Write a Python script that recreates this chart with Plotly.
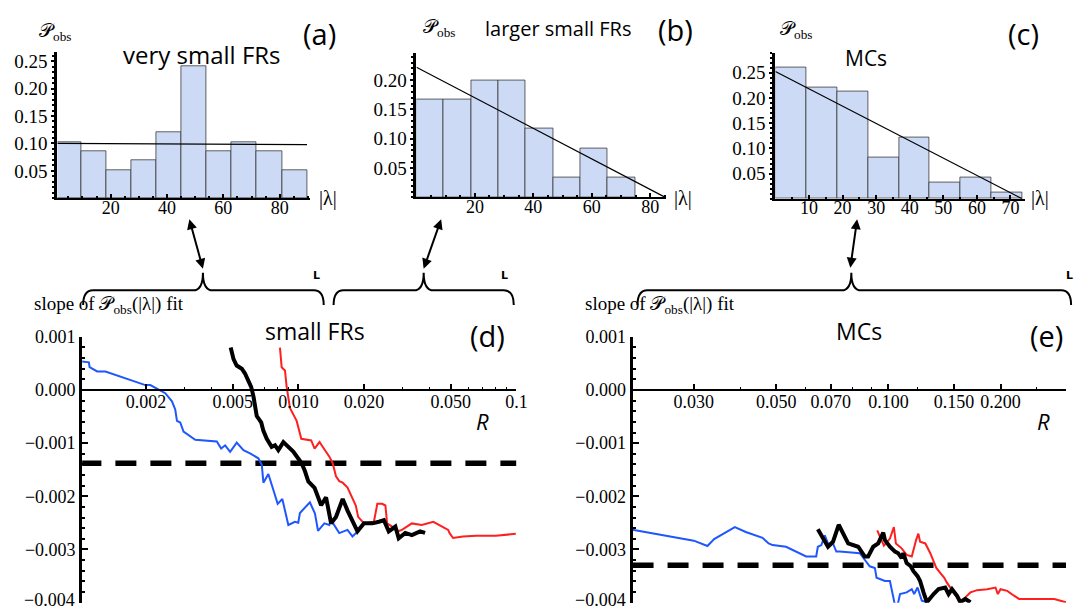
import math
import plotly.graph_objects as go

W, H = 1091, 611

# ---------------- data ----------------
# (a) very small FRs
a_bin_start = 0.7
a_bin_width = 8.9
a_heights = [0.102, 0.086, 0.052, 0.069, 0.121, 0.240, 0.086, 0.102, 0.086, 0.052]
a_fit_intercept = 0.1002
a_fit_slope = -0.000026
a_fit_range = [1.1, 89.7]

# (b) larger small FRs
b_bin_start = 0.0
b_bin_width = 9.35
b_heights = [0.167, 0.167, 0.200, 0.200, 0.117, 0.033, 0.083, 0.033]
b_fit_intercept = 0.222
b_fit_slope = -0.002606
b_fit_range = [0.0, 85.2]

# (c) MCs
c_bin_start = 0.0
c_bin_width = 9.2
c_heights = [0.261, 0.221, 0.212, 0.081, 0.122, 0.033, 0.042, 0.012]
c_fit_intercept = 0.2525
c_fit_slope = -0.003435
c_fit_range = [0.0, 73.5]

a_xticks = [20, 40, 60, 80]
b_xticks = [20, 40, 60, 80]
c_xticks = [10, 20, 30, 40, 50, 60, 70]
a_yticks = [0.05, 0.10, 0.15, 0.20, 0.25]
b_yticks = [0.05, 0.10, 0.15, 0.20]
c_yticks = [0.05, 0.10, 0.15, 0.20, 0.25]

# (d) small FRs : slope (x 1e-3) vs R
d_blue_R = [0.001012, 0.001094, 0.001102, 0.001194, 0.001303, 0.001986, 0.002093, 0.002451, 0.002630, 0.002723,
            0.002773, 0.002871, 0.002972, 0.003364, 0.004224, 0.004423, 0.004613, 0.004863, 0.005214, 0.005597,
            0.006000, 0.006550, 0.006792, 0.006910, 0.007280, 0.007674, 0.008035, 0.008437, 0.008990, 0.009639,
            0.009983, 0.01016, 0.01129, 0.01191, 0.01230, 0.01315, 0.01386, 0.01412, 0.01539, 0.01679, 0.01770, 0.01866]
d_blue_slope_milli = [0.539, 0.520, 0.429, 0.349, 0.349, 0.092, 0.092, -0.061, -0.214, -0.367,
                      -0.582, -0.612, -0.784, -0.937, -0.968, -1.102, -1.041, -1.163, -0.992, -1.133,
                      -1.194, -1.286, -1.408, -1.745, -1.580, -1.898, -2.143, -2.051, -2.541, -2.480,
                      -2.498, -2.315, -2.113, -2.327, -2.650, -2.511, -2.541, -2.449, -2.694, -2.633, -2.756, -2.664]

d_black_R = [0.00489, 0.00504, 0.00521, 0.00550, 0.00569, 0.00590, 0.00607, 0.00622, 0.00633, 0.00644,
             0.00675, 0.00691, 0.00716, 0.00754, 0.00781, 0.00809, 0.00853, 0.00899, 0.00947, 0.00998,
             0.01035, 0.01072, 0.01110, 0.01186, 0.01271, 0.01339, 0.01412, 0.01487, 0.01596, 0.01680,
             0.01770, 0.01866, 0.02000, 0.02183, 0.02340, 0.02466, 0.02597, 0.02784, 0.02884, 0.03091,
             0.03313, 0.03614, 0.03810]
d_black_slope_milli = [0.80, 0.58, 0.46, 0.40, 0.31, 0.15, 0.06, -0.12, -0.28, -0.49,
                       -0.61, -0.77, -0.92, -1.07, -1.04, -1.13, -0.98, -1.07, -1.16, -1.29,
                       -1.38, -1.53, -1.72, -1.84, -2.17, -2.02, -2.51, -2.39, -2.05, -2.27,
                       -2.48, -2.66, -2.51, -2.51, -2.48, -2.45, -2.66, -2.57, -2.79, -2.69,
                       -2.73, -2.66, -2.69]

d_red_R = [0.008229, 0.008378, 0.008677, 0.008831, 0.009146, 0.009376, 0.009816, 0.01031, 0.01145, 0.01186,
           0.01250, 0.01294, 0.01387, 0.01436, 0.01487, 0.01539, 0.01596, 0.01680, 0.01770, 0.01833,
           0.01879, 0.02000, 0.02219, 0.02301, 0.02422, 0.02506, 0.02552, 0.02689, 0.02833, 0.02985,
           0.03313, 0.03678, 0.04157, 0.04538, 0.04863, 0.04944, 0.05124, 0.05686, 0.06535, 0.08054, 0.09931]
d_red_slope_milli = [0.796, 0.429, 0.367, 0.061, -0.337, -0.429, -0.582, -0.919, -0.949, -1.102,
                     -0.980, -1.072, -1.255, -1.378, -1.623, -1.715, -1.745, -1.837, -2.021, -2.174,
                     -2.388, -2.511, -2.480, -2.143, -2.143, -2.174, -2.511, -2.572, -2.664, -2.633,
                     -2.511, -2.541, -2.480, -2.572, -2.633, -2.700, -2.786, -2.756, -2.743, -2.743, -2.707]

d_fit_slope = -0.00138
d_R_range = [0.001, 0.1]

# (e) MCs
e_blue_R = [0.02056, 0.03002, 0.03266, 0.03404, 0.03869, 0.04140, 0.04592, 0.04768, 0.04887, 0.05309,
            0.06012, 0.06397, 0.06463, 0.06604, 0.06745, 0.06881, 0.07096, 0.07244, 0.07396, 0.08375,
            0.08636, 0.08907, 0.09194, 0.09290, 0.09784, 0.1009, 0.1041, 0.1058, 0.1074, 0.1119,
            0.1155, 0.1172, 0.1197, 0.1229, 0.1268]
e_blue_slope_milli = [-2.632, -2.836, -2.937, -2.807, -2.580, -2.673, -2.783, -2.888, -2.919, -2.950,
                      -3.134, -3.134, -2.950, -2.919, -2.734, -2.888, -2.888, -3.042, -3.042, -3.072,
                      -3.195, -3.318, -3.349, -3.534, -3.595, -3.595, -4.050, -4.050, -3.841, -3.810,
                      -3.749, -3.841, -3.718, -3.964, -3.995]

e_black_R = [0.06463, 0.06881, 0.07096, 0.07352, 0.07796, 0.08036, 0.08293, 0.08638, 0.08820, 0.09100,
             0.09386, 0.09683, 0.09784, 0.1009, 0.1041, 0.1062, 0.1085, 0.1096, 0.1119, 0.1148,
             0.1167, 0.1197, 0.1216, 0.1242, 0.1268, 0.1322, 0.1363, 0.1420, 0.1450, 0.1481,
             0.1528, 0.1559, 0.1608, 0.1660]
e_black_slope_milli = [-2.623, -2.950, -2.857, -2.537, -2.888, -2.919, -2.950, -3.134, -3.134, -2.950,
                       -2.888, -2.685, -2.826, -2.950, -3.042, -3.072, -3.165, -3.072, -3.257, -3.318,
                       -3.411, -3.503, -3.595, -3.810, -3.995, -3.841, -3.749, -3.718, -3.841, -3.749,
                       -3.872, -3.995, -3.933, -3.995]

e_red_R = [0.09328, 0.09723, 0.1009, 0.1034, 0.1047, 0.1085, 0.1119, 0.1155, 0.1186, 0.1203,
           0.1216, 0.1256, 0.1295, 0.1322, 0.1344, 0.1377, 0.1412, 0.1435, 0.1466, 0.1496,
           0.1528, 0.1559, 0.1608, 0.1660, 0.1730, 0.1841, 0.1938, 0.1966, 0.2000, 0.2084,
           0.2173, 0.2241, 0.2786, 0.2994]
e_red_slope_milli = [-2.642, -2.931, -2.796, -2.580, -2.888, -2.980, -3.103, -3.134, -2.826, -2.703,
                     -2.857, -2.888, -3.072, -3.226, -3.349, -3.440, -3.534, -3.626, -3.718, -3.810,
                     -3.903, -3.995, -3.903, -3.810, -3.767, -3.749, -3.718, -3.841, -3.749, -3.780,
                     -3.872, -3.933, -3.933, -3.995]

e_fit_slope = -0.0033
e_R_range = [0.02056, 0.2999]

d_xticks = [0.002, 0.005, 0.010, 0.020, 0.050, 0.1]
d_xticktext = ["0.002", "0.005", "0.010", "0.020", "0.050", "0.1"]
d_xminor = [0.003, 0.004, 0.006, 0.007, 0.008, 0.009, 0.03, 0.04, 0.06, 0.07, 0.08, 0.09]
e_xticks = [0.030, 0.050, 0.070, 0.100, 0.150, 0.200]
e_xticktext = ["0.030", "0.050", "0.070", "0.100", "0.150", "0.200"]
e_xminor = [0.04, 0.06, 0.08, 0.09, 0.12, 0.25]
low_yticks = [0.001, 0.0, -0.001, -0.002, -0.003, -0.004]
low_yticktext = ["0.001", "0.000", "\u22120.001", "\u22120.002", "\u22120.003", ""]
low_ybottom_label = "\u22120.004"

# ---------------- layout helpers (pixel -> paper) ----------------
def PX(x):
    return x / W

def PY(y):
    return 1 - y / H

def dom_x(x0, x1):
    return [PX(x0), PX(x1)]

def dom_y(y_top, y_bottom):
    return [PY(y_bottom), PY(y_top)]

SERIF = "Liberation Serif, Times New Roman, serif"
SANS = "Open Sans, Noto Sans, sans-serif"
BAR_FILL = "#cddaf5"
BAR_EDGE = "rgba(50,50,50,0.75)"
BLUE = "#1f57ff"
RED = "#ff1f1f"

fig = go.Figure()

def add_hist(start, width, heights, icpt, slope, frange, xa, ya):
    centers = [start + width * (i + 0.5) for i in range(len(heights))]
    fig.add_trace(go.Bar(x=centers, y=heights, width=[width] * len(heights),
                         marker=dict(color=BAR_FILL, line=dict(color=BAR_EDGE, width=1)),
                         xaxis=xa, yaxis=ya, hoverinfo="skip"))
    fig.add_trace(go.Scatter(x=frange, y=[icpt + slope * v for v in frange], mode="lines",
                             line=dict(color="black", width=1.2), xaxis=xa, yaxis=ya, hoverinfo="skip"))

add_hist(a_bin_start, a_bin_width, a_heights, a_fit_intercept, a_fit_slope, a_fit_range, "x", "y")
add_hist(b_bin_start, b_bin_width, b_heights, b_fit_intercept, b_fit_slope, b_fit_range, "x2", "y2")
add_hist(c_bin_start, c_bin_width, c_heights, c_fit_intercept, c_fit_slope, c_fit_range, "x3", "y3")

def milli(v):
    return [s * 1e-3 for s in v]

def add_lower(rng, fit, curves, xa, ya):
    fig.add_trace(go.Scatter(x=rng, y=[fit, fit], mode="lines",
                             line=dict(color="black", width=5.5, dash="21px,14px"),
                             xaxis=xa, yaxis=ya, hoverinfo="skip"))
    for R, s, col, w in curves:
        fig.add_trace(go.Scatter(x=R, y=milli(s), mode="lines",
                                 line=dict(color=col, width=w), xaxis=xa, yaxis=ya, hoverinfo="skip"))

add_lower(d_R_range, d_fit_slope,
          [(d_blue_R, d_blue_slope_milli, BLUE, 2), (d_red_R, d_red_slope_milli, RED, 2),
           (d_black_R, d_black_slope_milli, "black", 4)], "x4", "y4")
add_lower(e_R_range, e_fit_slope,
          [(e_blue_R, e_blue_slope_milli, BLUE, 2), (e_red_R, e_red_slope_milli, RED, 2),
           (e_black_R, e_black_slope_milli, "black", 4)], "x5", "y5")

# ---------------- axes ----------------
def top_x(dom, rng, ticks, anchor):
    return dict(domain=dom, range=rng, anchor=anchor, showline=True, linecolor="black", linewidth=2,
                showgrid=False, zeroline=False, tickvals=ticks, ticks="inside", ticklen=4, tickwidth=1.5,
                tickcolor="black", minor=dict(dtick=5, tick0=0, ticks="inside", ticklen=2, tickcolor="black"),
                ticklabelstandoff=-8,
                tickfont=dict(family=SERIF, size=18, color="black"), fixedrange=True)

def top_y(dom, rng, ticks, anchor):
    return dict(domain=dom, range=rng, anchor=anchor, showline=True, linecolor="black", linewidth=3,
                showgrid=False, zeroline=False, tickvals=ticks, ticktext=["%.2f" % t for t in ticks],
                ticks="outside", ticklen=3, tickwidth=1.5, tickcolor="black",
                minor=dict(dtick=0.01, tick0=0, ticks="outside", ticklen=2, tickcolor="black"),
                tickfont=dict(family=SERIF, size=19, color="black"), fixedrange=True)

zero_pos = PY(386.7)

def low_x(dom, rng, ticks, text, minor):
    return dict(domain=dom, type="log", range=[math.log10(rng[0]), math.log10(rng[1])],
                anchor="free", position=zero_pos, showline=True, linecolor="black", linewidth=1.5,
                showgrid=False, zeroline=False, tickvals=ticks, ticktext=text, ticks="inside", ticklen=6,
                tickwidth=2, tickcolor="black", ticklabelstandoff=-5,
                minor=dict(tickvals=minor, ticks="inside", ticklen=3, tickwidth=1, tickcolor="black"),
                tickfont=dict(family=SERIF, size=18, color="black"), fixedrange=True)

def low_y(dom, anchor):
    return dict(domain=dom, range=[-0.004006, 0.001], anchor=anchor, showline=True, linecolor="black",
                linewidth=3, showgrid=False, zeroline=False, tickvals=low_yticks, ticktext=low_yticktext,
                ticks="inside", ticklen=6, tickwidth=2, tickcolor="black",
                minor=dict(dtick=0.0002, tick0=0, ticks="inside", ticklen=3, tickwidth=1.5, tickcolor="black"),
                tickfont=dict(family=SERIF, size=18, color="black"), fixedrange=True)

fig.update_layout(
    width=W, height=H, margin=dict(l=0, r=0, t=0, b=0), autosize=False,
    paper_bgcolor="white", plot_bgcolor="white", showlegend=False, bargap=0,
    xaxis=top_x(dom_x(58, 313), [1.1, 90.7], a_xticks, "y"),
    yaxis=top_y(dom_y(43, 191.5), [0, 0.266], a_yticks, "x"),
    xaxis2=top_x(dom_x(420.7, 673), [0, 85.5], b_xticks, "y2"),
    yaxis2=top_y(dom_y(43.3, 190.5), [0, 0.247], b_yticks, "x2"),
    xaxis3=top_x(dom_x(783.3, 1035), [0, 74.2], c_xticks, "y3"),
    yaxis3=top_y(dom_y(43.3, 192), [0, 0.29], c_yticks, "x3"),
    xaxis4=low_x(dom_x(83, 521.7), [0.001019, 0.1], d_xticks, d_xticktext, d_xminor),
    yaxis4=low_y(dom_y(332.3, 602.7), "x4"),
    xaxis5=low_x(dom_x(639, 1077), [0.02056, 0.2999], e_xticks, e_xticktext, e_xminor),
    yaxis5=low_y(dom_y(332.3, 602.7), "x5"),
)

# ---------------- text ----------------
ann = []

def txt(x, y, s, size, family=SANS, xanchor="center"):
    ann.append(dict(x=PX(x), y=PY(y), xref="paper", yref="paper", text=s, showarrow=False,
                    xanchor=xanchor, yanchor="middle", font=dict(family=family, size=size, color="black")))

POBS = "\U0001D4AB<sub>obs</sub>"
txt(56, 22, POBS, 19, SERIF)
txt(443, 18, POBS, 19, SERIF)
txt(804, 20, POBS, 19, SERIF)
txt(204, 45, "very small FRs", 24)
txt(564, 19, "larger small FRs", 20)
txt(875, 49, "MCs", 21)
txt(323, 24, "(a)", 29)
txt(682, 20, "(b)", 29)
txt(1034, 24, "(c)", 29)
txt(331, 192, "|\u03bb|", 20, SERIF)
txt(690, 192, "|\u03bb|", 20, SERIF)
txt(1051, 192, "|\u03bb|", 20, SERIF)

txt(110, 300, "slope of " + POBS + "(|\u03bb|) fit", 19, SERIF)
txt(667, 300, "slope of " + POBS + "(|\u03bb|) fit", 19, SERIF)
txt(318, 326, "small FRs", 23)
txt(868, 326, "MCs", 23)
txt(492, 331, "(d)", 29)
txt(1057, 331, "(e)", 29)
txt(487, 418, "<i>R</i>", 22)
txt(1054, 418, "<i>R</i>", 22)

# bottom y tick label kept inside the page
txt(78, 600, low_ybottom_label, 18, SERIF, xanchor="right")
txt(634, 600, low_ybottom_label, 18, SERIF, xanchor="right")

for lx in (320, 510, 1080):
    txt(lx, 270, "<b>L</b>", 11, "DejaVu Sans")

# double arrows
def darrow(x_head, y_head, x_tail, y_tail):
    ann.append(dict(x=PX(x_head), y=PY(y_head), xref="paper", yref="paper",
                    ax=x_tail - x_head, ay=y_tail - y_head, axref="pixel", ayref="pixel",
                    text="", showarrow=True, arrowhead=2, startarrowhead=2, arrowside="end+start",
                    arrowwidth=2, arrowsize=1, startarrowsize=1, arrowcolor="black"))

darrow(205, 263, 191, 212)
darrow(428, 263, 446, 212)
darrow(859, 262, 866, 212)

fig.update_layout(annotations=ann)

# braces
def brace(x0, x1, xt, y_end=300, y_mid=285, y_tip=267, r=10):
    pts = "M {:.5f},{:.5f} Q {:.5f},{:.5f} {:.5f},{:.5f} L {:.5f},{:.5f} Q {:.5f},{:.5f} {:.5f},{:.5f} " \
          "Q {:.5f},{:.5f} {:.5f},{:.5f} L {:.5f},{:.5f} Q {:.5f},{:.5f} {:.5f},{:.5f}".format(
              PX(x0), PY(y_end), PX(x0), PY(y_mid), PX(x0 + r), PY(y_mid),
              PX(xt - r), PY(y_mid), PX(xt), PY(y_mid), PX(xt), PY(y_tip),
              PX(xt), PY(y_mid), PX(xt + r), PY(y_mid),
              PX(x1 - r), PY(y_mid), PX(x1), PY(y_mid), PX(x1), PY(y_end))
    return dict(type="path", path=pts, xref="paper", yref="paper", line=dict(color="black", width=2))

fig.update_layout(shapes=[brace(84, 327, 205), brace(337, 519, 428), brace(644, 1082, 860)])

fig.write_html("out.html", config={"displayModeBar": False})
with open("out.html", "r", encoding="utf-8") as f:
    s = f.read()
s = s.replace("<head>", "<head><style>html,body{margin:0;padding:0;overflow:hidden;}</style>", 1)
with open("out.html", "w", encoding="utf-8") as f:
    f.write(s)
